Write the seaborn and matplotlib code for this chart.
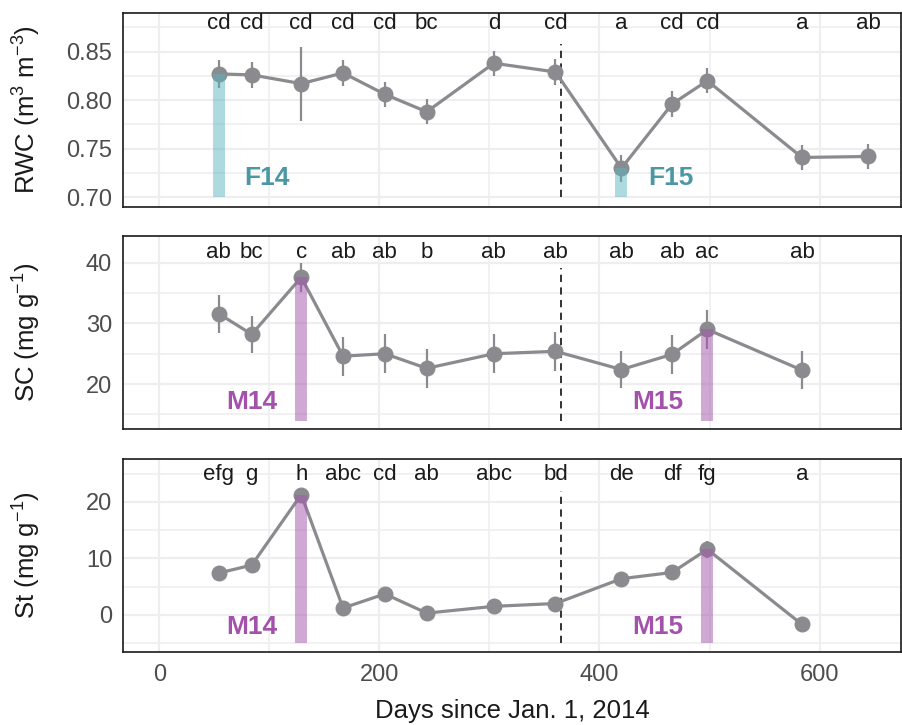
import matplotlib
matplotlib.use("Agg")
import matplotlib.pyplot as plt
import pandas as pd
import seaborn as sns
from matplotlib.ticker import MultipleLocator, FormatStrFormatter

# sampling days (days since Jan. 1, 2014)
days = [54, 84, 129, 167, 205, 243, 304, 360, 420, 466, 498, 584, 644]

rwc = [0.827, 0.826, 0.817, 0.828, 0.806, 0.788, 0.838, 0.829, 0.730, 0.796, 0.820, 0.741, 0.742]
rwc_err = [0.014, 0.013, 0.038, 0.013, 0.013, 0.013, 0.013, 0.013, 0.014, 0.013, 0.013, 0.013, 0.013]
rwc_letters = ["cd", "cd", "cd", "cd", "cd", "bc", "d", "cd", "a", "cd", "cd", "a", "ab"]

sc = [31.6, 28.2, 37.6, 24.6, 25.0, 22.6, 25.0, 25.4, 22.4, 24.9, 29.0, 22.3]
sc_err = [3.1, 3.1, 2.4, 3.2, 3.2, 3.2, 3.2, 3.2, 3.1, 3.2, 3.2, 3.1]
sc_letters = ["ab", "bc", "c", "ab", "ab", "b", "ab", "ab", "ab", "ab", "ac", "ab"]

st = [7.4, 8.8, 21.3, 1.2, 3.7, 0.3, 1.5, 2.0, 6.4, 7.5, 11.6, -1.7]
st_err = [0.8, 0.9, 1.0, 0.8, 0.9, 0.7, 0.8, 0.8, 0.8, 0.9, 1.5, 0.8]
st_letters = ["efg", "g", "h", "abc", "cd", "ab", "abc", "bd", "de", "df", "fg", "a"]

flush_days = [54, 420]
flush_labels = ["F14", "F15"]
max_days = [129, 498]
max_labels = ["M14", "M15"]
year_end = 365

gray = "#8b8b8f"
teal_txt = "#4b98a5"
teal_bar = "#5ab6bf"
purple = "#a352ab"
grid_col = "#eeeef1"

sns.set_style("white")
plt.rcParams["font.family"] = ["Liberation Sans", "DejaVu Sans"]
plt.rcParams["mathtext.fontset"] = "custom"
plt.rcParams["mathtext.rm"] = "Liberation Sans"
plt.rcParams["mathtext.it"] = "Liberation Sans"

fig = plt.figure(figsize=(9.02, 7.25), dpi=100)
L, W = 123.3 / 902, (901 - 123.3) / 902
ax1 = fig.add_axes([L, 1 - 207 / 725, W, 194 / 725])
ax2 = fig.add_axes([L, 1 - 429 / 725, W, 193 / 725], sharex=ax1)
ax3 = fig.add_axes([L, 1 - 651.5 / 725, W, 192.5 / 725], sharex=ax1)

panels = [
    (ax1, rwc, rwc_err, rwc_letters, (0.69, 0.8897), 0.879, "RWC (m$^{3}$ m$^{-3}$)",
     0.05, 0.025, flush_days, flush_labels, teal_txt, teal_bar, 0.70, 0.72, [98, 465], (0.70, 0.858)),
    (ax2, sc, sc_err, sc_letters, (12.6, 44.4), 41.6, "SC (mg g$^{-1}$)",
     10, 5, max_days, max_labels, purple, purple, 14, 17.0, [84, 453], (13.9, 39.1)),
    (ax3, st, st_err, st_letters, (-6.5, 27.6), 24.9, "St (mg g$^{-1}$)",
     10, 5, max_days, max_labels, purple, purple, -5, -2.2, [84, 453], (-5, 22)),
]

for (ax, vals, err, letters, ylim, ylet, ylabel, major, minor,
     ev_days, ev_labels, txt_col, bar_col, bar_lo, ytxt, xtxt, dash) in panels:
    n = len(vals)
    df = pd.DataFrame({"day": days[:n], "val": vals, "err": err})
    ax.set_xlim(-32.7, 674)
    ax.set_ylim(*ylim)
    ax.xaxis.set_major_locator(MultipleLocator(200))
    ax.xaxis.set_minor_locator(MultipleLocator(100))
    ax.yaxis.set_major_locator(MultipleLocator(major))
    ax.yaxis.set_minor_locator(MultipleLocator(minor))
    ax.grid(which="major", color=grid_col, lw=1.6, zorder=0)
    ax.grid(which="minor", color=grid_col, lw=1.1, zorder=0)
    ax.set_axisbelow(True)

    ax.vlines(year_end, dash[0], dash[1], colors="#222222", linestyles=(0, (4, 3)), lw=1.3, zorder=1)

    sns.lineplot(data=df, x="day", y="val", ax=ax, color=gray, lw=2.3, marker="o",
                 markersize=11.5, markeredgewidth=0, zorder=3)
    ax.errorbar(df["day"], df["val"], yerr=df["err"], fmt="none", ecolor=gray,
                elinewidth=1.6, capsize=0, zorder=3)

    for d, lab, xt in zip(ev_days, ev_labels, xtxt):
        top = vals[days.index(d)]
        ax.vlines(d, bar_lo, top, colors=bar_col, lw=8.6, alpha=0.5, zorder=4)
        ax.text(xt, ytxt, lab, color=txt_col, fontsize=19, fontweight="bold",
                ha="center", va="center", zorder=5)

    for d, lab in zip(days[:n], letters):
        ax.text(d, ylet, lab, fontsize=16, color="#1a1a1a", ha="center", va="center", zorder=5)

    ax.set_ylabel(ylabel, fontsize=18.5, color="#1a1a1a")
    ax.yaxis.set_label_coords(-0.103, 0.5)
    ax.set_xlabel("")
    for s in ax.spines.values():
        s.set_color("#1a1a1a")
        s.set_linewidth(1.2)
    ax.tick_params(axis="y", labelsize=17, labelcolor="#4d4d4d", length=0, pad=8)
    ax.tick_params(axis="x", labelsize=17, labelcolor="#4d4d4d", length=0)

ax1.yaxis.set_major_formatter(FormatStrFormatter("%.2f"))
ax1.tick_params(axis="x", labelbottom=False)
ax2.tick_params(axis="x", labelbottom=False)
ax3.tick_params(axis="both", which="major", length=4, width=1.2, color="#1a1a1a")
ax3.tick_params(axis="y", pad=4)
ax3.tick_params(axis="x", pad=5)
ax3.set_xlabel("Days since Jan. 1, 2014", fontsize=18.5, color="#1a1a1a")
ax3.xaxis.set_label_coords(0.5, -0.245)

fig.savefig("out.png", dpi=100)
